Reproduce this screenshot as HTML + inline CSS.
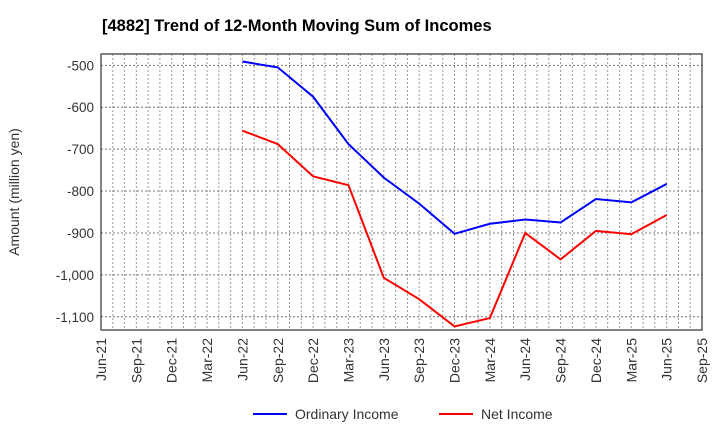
<!DOCTYPE html>
<html><head><meta charset="utf-8"><style>
body{margin:0;background:#fff;font-family:"Liberation Sans",sans-serif}
</style></head><body>
<svg id="c" width="720" height="440" xmlns="http://www.w3.org/2000/svg">
<text x="102" y="31" font-size="16.5" font-weight="bold" fill="#000">[4882]  Trend of 12-Month Moving Sum of Incomes</text>
<text transform="translate(19,192) rotate(-90)" text-anchor="middle" font-size="14" fill="#333">Amount (million yen)</text>
<g id="grid"></g>
<g id="axes"></g>
<g id="series"></g>
<g>
<g><line x1="253" y1="414" x2="287" y2="414" stroke="#0000ff" stroke-width="2"/><text x="295" y="419" font-size="14" fill="#333">Ordinary Income</text></g>
<g><line x1="439" y1="414" x2="473" y2="414" stroke="#ff0000" stroke-width="2"/><text x="481" y="419" font-size="14" fill="#333">Net Income</text></g>
</g>
</svg>
<script>
const xLabels=["Jun-21","Sep-21","Dec-21","Mar-22","Jun-22","Sep-22","Dec-22","Mar-23","Jun-23","Sep-23","Dec-23","Mar-24","Jun-24","Sep-24","Dec-24","Mar-25","Jun-25","Sep-25"];
const yTicks=[-500,-600,-700,-800,-900,-1000,-1100];
const yTickLabels=["-500","-600","-700","-800","-900","-1,000","-1,100"];
const dataStart=4;
const ordinaryIncome=[-491,-505,-575,-688,-768,-830,-902,-878,-868,-875,-819,-827,-783];
const netIncome=[-656,-688,-765,-786,-1007,-1058,-1123,-1103,-900,-963,-895,-903,-857];
const L=101,R=702,T=54,B=330,yTop=-473,yBot=-1131.5;
const NS="http://www.w3.org/2000/svg";
const q=(R-L)/(xLabels.length-1);
const xq=i=>L+i*q;
const y=v=>T+(v-yTop)/(yBot-yTop)*(B-T);
function mk(p,t,a){const e=document.createElementNS(NS,t);for(const k in a)e.setAttribute(k,a[k]);p.appendChild(e);return e;}
const grid=document.getElementById('grid'),axes=document.getElementById('axes'),series=document.getElementById('series');
for(let m=1;m<(xLabels.length-1)*3;m++){const x=L+m*q/3;
 const g=mk(grid,'line',{x1:x,x2:x,y1:T,y2:B,stroke:'#999','stroke-width':1,'stroke-dasharray':'2,2'});
 }
yTicks.forEach((v,i)=>{const yy=y(v);
 const g=mk(grid,'line',{x1:L,x2:R,y1:yy,y2:yy,stroke:'#777','stroke-width':1,'stroke-dasharray':'2,2'});
 
 const t=mk(axes,'text',{x:L-7,y:yy+5,'text-anchor':'end','font-size':13.5,fill:'#333'});t.textContent=yTickLabels[i];
 });
xLabels.forEach((s,i)=>{const x=xq(i);
 const t=mk(axes,'text',{transform:`translate(${x+5},${B+8}) rotate(-90)`,'text-anchor':'end','font-size':14,fill:'#333'});t.textContent=s;
 });
const fr=mk(axes,'rect',{x:L,y:T,width:R-L,height:B-T,fill:'none',stroke:'#333','stroke-width':1.2});

function line(d,c,n){const pts=d.map((v,i)=>xq(dataStart+i)+','+y(v)).join(' ');
 const p=mk(series,'polyline',{points:pts,fill:'none',stroke:c,'stroke-width':2});
 }
line(ordinaryIncome,'#0000ff','ordinary-income-line');
line(netIncome,'#ff0000','net-income-line');
</script>
</body></html>
